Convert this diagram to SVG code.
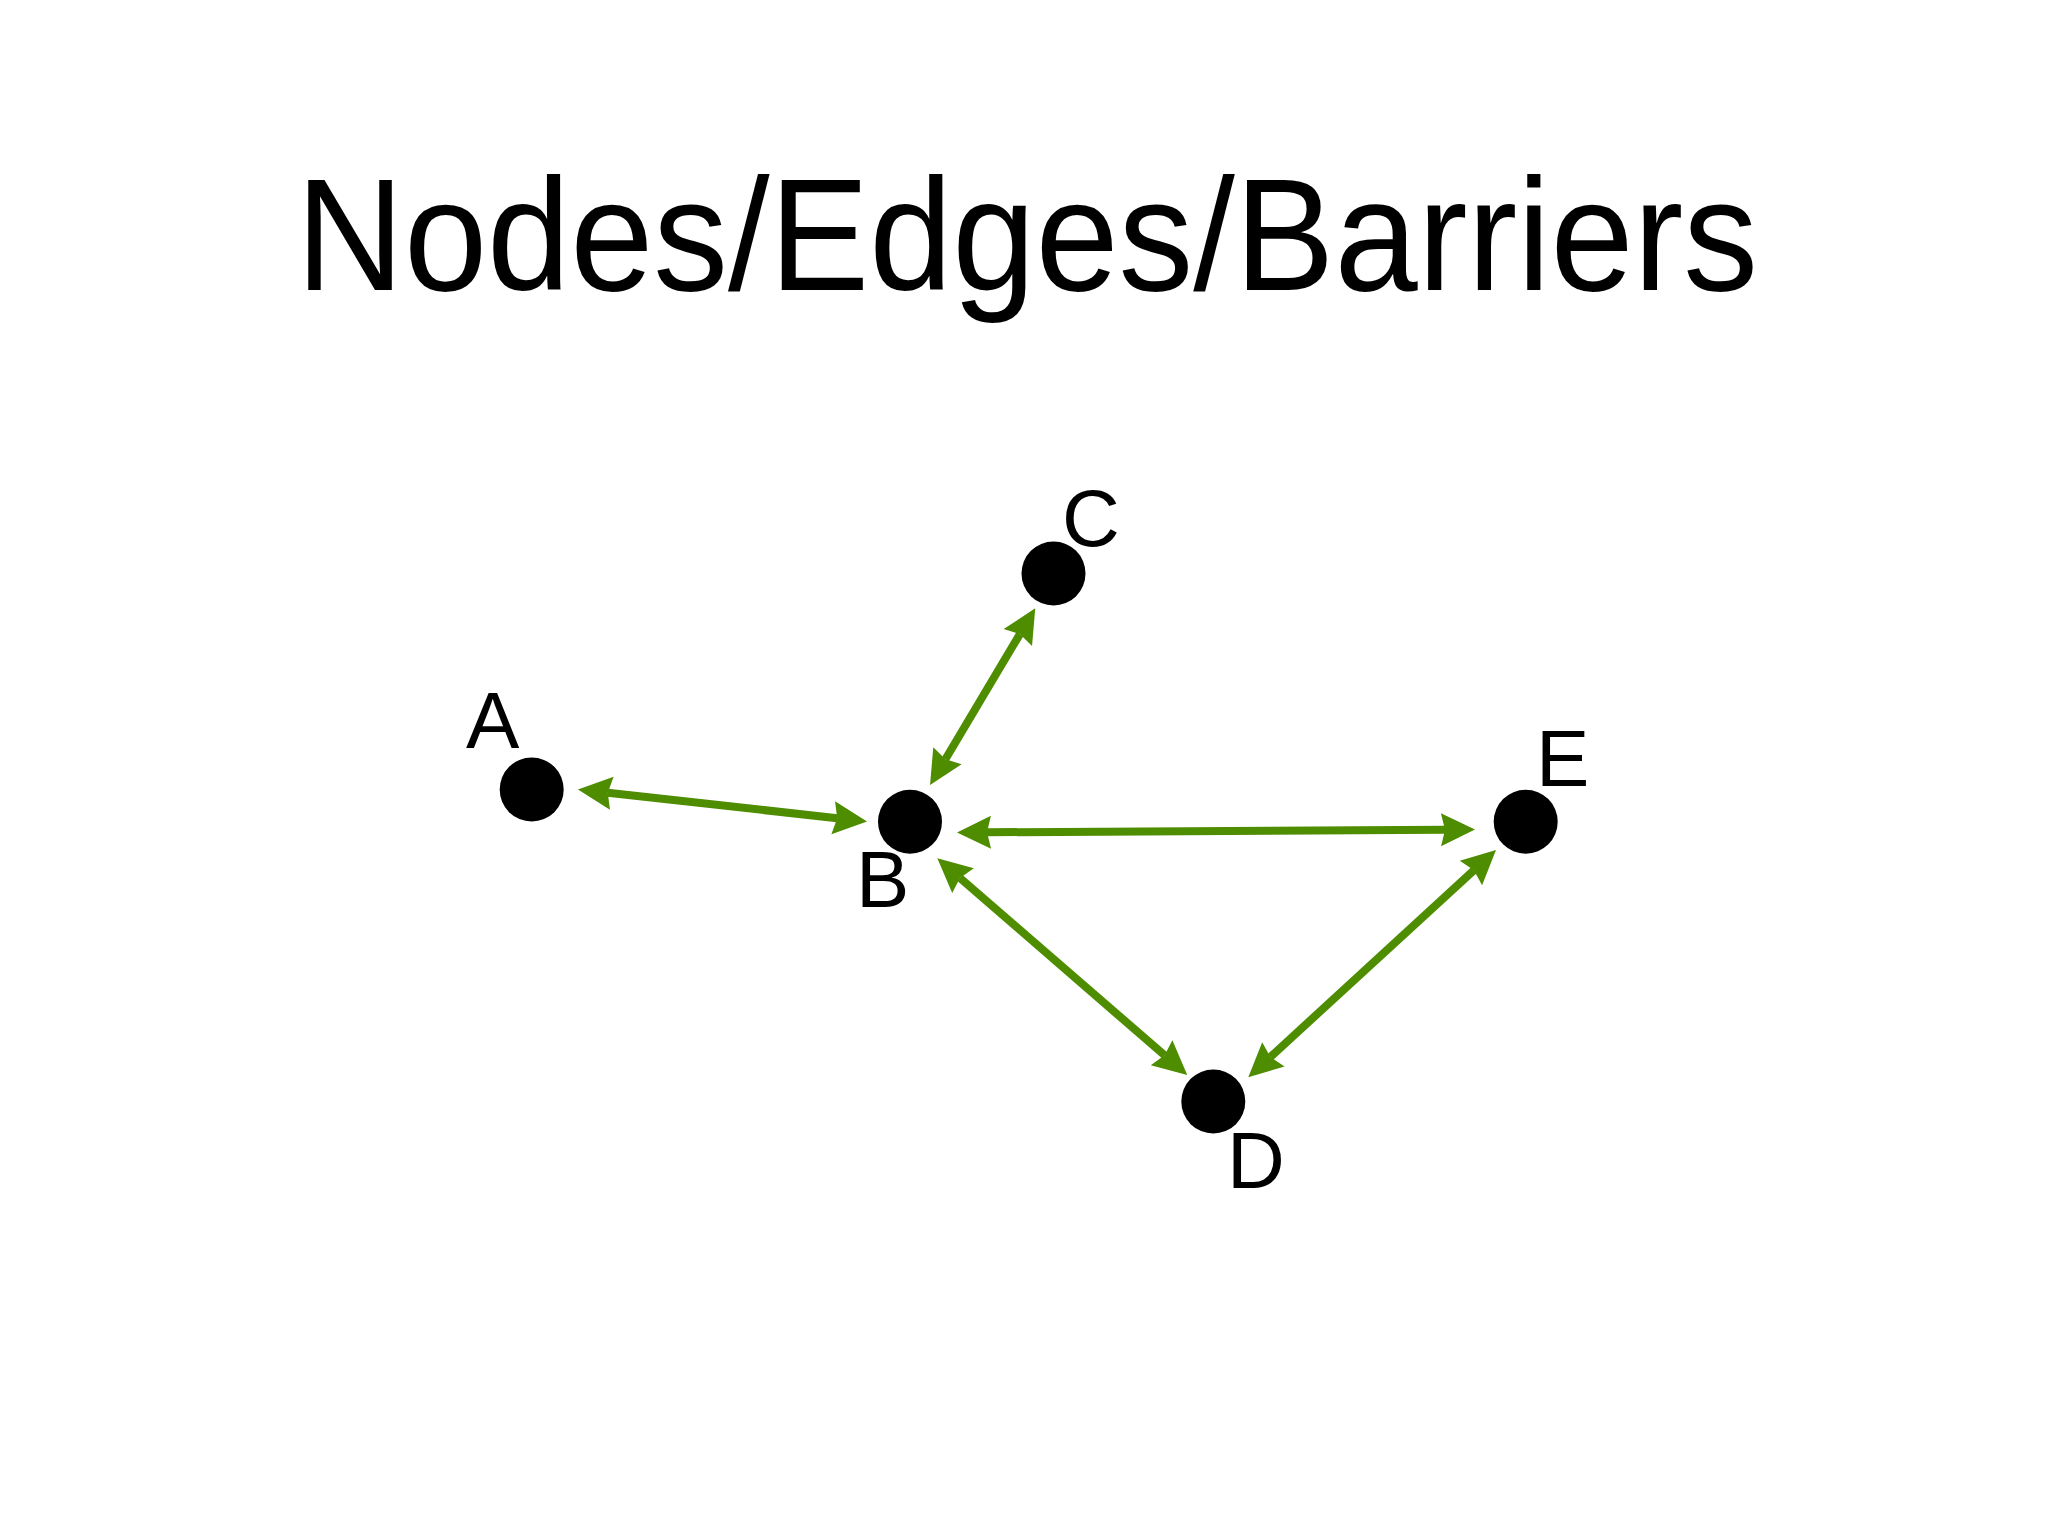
<svg xmlns="http://www.w3.org/2000/svg" width="2048" height="1536" viewBox="0 0 2048 1536">
<style>
.node{fill:#000}
.lbl{font-family:"Liberation Sans",Arial,sans-serif;font-size:80px;fill:#000}
.title{font-family:"Liberation Sans",Arial,sans-serif;font-size:160px;fill:#000}
.edge{stroke:#4e8c00;stroke-width:8;fill:none;marker-start:url(#ah);marker-end:url(#ah)}
</style>
<defs>
<marker id="ah" markerUnits="userSpaceOnUse" viewBox="-1 -18 37 36" markerWidth="37" markerHeight="36" refX="4" refY="0" orient="auto-start-reverse">
<path d="M34,0 L0,-16.5 L4,0 L0,16.5 Z" fill="#4e8c00"/>
</marker>
</defs>
<rect width="2048" height="1536" fill="#fff"/>
<text class="title" x="296" y="290" textLength="1462" lengthAdjust="spacingAndGlyphs">Nodes/Edges/Barriers</text>
<g id="connectors">
<line class="edge" x1="607.8" y1="792.8" x2="837.2" y2="818.2"/>
<line class="edge" x1="945.4" y1="759.2" x2="1019.9" y2="634.1"/>
<line class="edge" x1="987" y1="832.3" x2="1445" y2="829.7"/>
<line class="edge" x1="960" y1="878" x2="1164.6" y2="1055.3"/>
<line class="edge" x1="1270.4" y1="1057" x2="1473.9" y2="870.3"/>
</g>
<g id="node-A"><circle class="node" cx="531.7" cy="789.5" r="32"/><text class="lbl" x="466" y="748">A</text></g>
<g id="node-B"><circle class="node" cx="910" cy="821.7" r="32"/><text class="lbl" x="856" y="907">B</text></g>
<g id="node-C"><circle class="node" cx="1053.5" cy="573.5" r="32"/><text class="lbl" x="1062" y="546">C</text></g>
<g id="node-D"><circle class="node" cx="1213.3" cy="1101.5" r="32"/><text class="lbl" x="1227" y="1188">D</text></g>
<g id="node-E"><circle class="node" cx="1525.7" cy="821.7" r="32"/><text class="lbl" x="1536" y="786">E</text></g>
</svg>
